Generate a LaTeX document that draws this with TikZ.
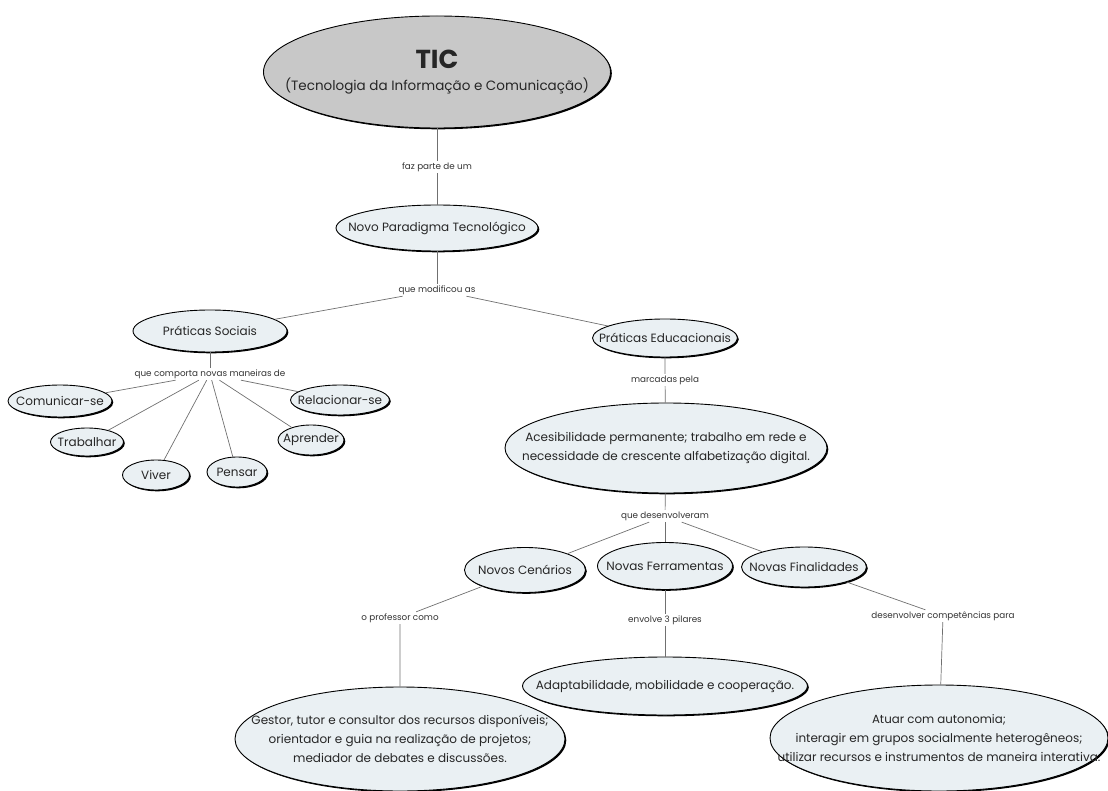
\documentclass[tikz,border=0pt]{standalone}
\usepackage{fontspec}
\setmainfont{Poppins}
\usetikzlibrary{shapes.geometric,shadows}
\definecolor{cmapfill}{HTML}{EAF0F3}
\definecolor{ticfill}{HTML}{C8C8C8}
\definecolor{linkgray}{HTML}{707070}

\begin{document}
\begin{tikzpicture}[x=1pt,y=-1pt,every label/.style={align=center,inner sep=0pt,text=black!85,font=\fontsize{12}{19}\selectfont}]
    \tikzstyle{concept}=[ellipse,draw=black,line width=0.9pt,fill=cmapfill,inner sep=0pt,
      drop shadow={shadow xshift=1.3pt,shadow yshift=-1.3pt,opacity=1,fill=black}]
    \tikzstyle{link}=[inner sep=1.5pt,text=black!80,font=\fontsize{8.8}{10}\selectfont]
    \tikzstyle{conn}=[draw=linkgray,line width=0.7pt]
    \useasboundingbox (0,0) rectangle (1108,791);
      % concepts
      \node[concept,fill=ticfill,minimum width=347pt,minimum height=112pt,
        label={center:{\fontsize{26}{26}\selectfont\textbf{TIC}\\[3pt]\fontsize{13.5}{15}\selectfont(Tecnologia da Informação e Comunicação)}}] (C_1) at (437,72) {};
      \node[concept,minimum width=202pt,minimum height=46pt,label={center:Novo Paradigma Tecnológico}] (C_2) at (437,228) {};
      \node[concept,minimum width=154pt,minimum height=42pt,label={center:Práticas Sociais}] (C_3) at (210,331) {};
      \node[concept,minimum width=145pt,minimum height=38pt,label={center:Práticas Educacionais}] (C_4) at (665,338) {};
      \node[concept,minimum width=104pt,minimum height=32pt,label={center:Comunicar-se}] (C_5) at (60,401) {};
      \node[concept,minimum width=73pt,minimum height=28pt,label={center:Trabalhar}] (C_6) at (87,442) {};
      \node[concept,minimum width=67pt,minimum height=30pt,label={center:Viver}] (C_7) at (156,475) {};
      \node[concept,minimum width=60pt,minimum height=30pt,label={center:Pensar}] (C_8) at (237,472) {};
      \node[concept,minimum width=66pt,minimum height=30pt,label={center:Aprender}] (C_9) at (311,440) {};
      \node[concept,minimum width=99pt,minimum height=30pt,label={center:Relacionar-se}] (C_10) at (340,400) {};
      \node[concept,minimum width=322pt,minimum height=90pt,
        label={center:{Acesibilidade permanente; trabalho em rede e\\necessidade de crescente alfabetização digital.}}] (C_11) at (666,448) {};
      \node[concept,minimum width=121pt,minimum height=45pt,label={center:Novos Cenários}] (C_12) at (525,570) {};
      \node[concept,minimum width=135pt,minimum height=47pt,label={center:Novas Ferramentas}] (C_13) at (665,566) {};
      \node[concept,minimum width=125pt,minimum height=40pt,label={center:Novas Finalidades}] (C_14) at (804,567) {};
      \node[concept,minimum width=330pt,minimum height=104pt,
        label={center:{Gestor, tutor e consultor dos recursos disponíveis;\\orientador e guia na realização de projetos;\\mediador de debates e discussões.}}] (C_15) at (400,739) {};
      \node[concept,minimum width=285pt,minimum height=58pt,label={center:Adaptabilidade, mobilidade e cooperação.}] (C_16) at (665,686) {};
      \node[concept,minimum width=338pt,minimum height=106pt,
        label={center:{\fontsize{11.8}{18}\selectfont Atuar com autonomia;\\interagir em grupos socialmente heterogêneos;\\utilizar recursos e instrumentos de maneira interativa.}}] (C_17) at (939,738) {};
      % linking phrases
      \node[link] (L_1) at (437,167) {faz parte de um};
      \node[link] (L_2) at (437,290) {que modificou as};
      \node[link] (L_3) at (210,374) {que comporta novas maneiras de};
      \node[link] (L_4) at (665,380) {marcadas pela};
      \node[link] (L_5) at (665,516) {que desenvolveram};
      \node[link] (L_6) at (400,618) {o professor como};
      \node[link] (L_7) at (665,620) {envolve 3 pilares};
      \node[link] (L_8) at (943,616) {desenvolver competências para};
      % connectors
      \draw[conn] (C_1) -- (L_1) -- (C_2);
      \draw[conn] (C_2) -- (L_2);
      \draw[conn] (L_2) -- (C_3);
      \draw[conn] (L_2) -- (C_4);
      \draw[conn] (C_3) -- (L_3);
      \foreach \n in {5,...,10}
        \draw[conn] (L_3) -- (C_\n);
      \draw[conn] (C_4) -- (L_4) -- (C_11);
      \draw[conn] (C_11) -- (L_5);
      \draw[conn] (L_5) -- (C_12);
      \draw[conn] (L_5) -- (C_13);
      \draw[conn] (L_5) -- (C_14);
      \draw[conn] (C_12) -- (L_6) -- (C_15);
      \draw[conn] (C_13) -- (L_7) -- (C_16);
      \draw[conn] (C_14) -- (L_8) -- (C_17);
\end{tikzpicture}
\end{document}
